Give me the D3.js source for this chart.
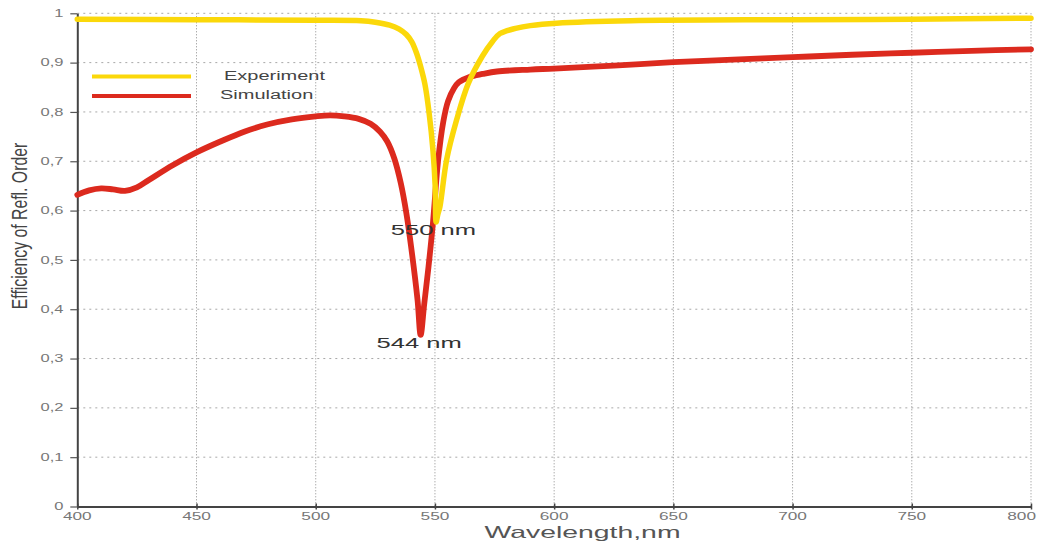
<!DOCTYPE html>
<html>
<head>
<meta charset="utf-8">
<script src="https://cdn.jsdelivr.net/npm/d3@7/dist/d3.min.js"></script>
<style>
  html, body { margin: 0; padding: 0; background: #fff; }
  svg { display: block; font-family: "Liberation Sans", Arial, Helvetica, sans-serif; }
</style>
</head>
<body>
<svg id="chart" width="1039" height="544"></svg>
<script>
// Reflection-order efficiency versus wavelength

const xTicks = [400, 450, 500, 550, 600, 650, 700, 750, 800];
const xTickLabels = ["400", "450", "500", "550", "600", "650", "700", "750", "800"];
const yTicks = [0, 0.1, 0.2, 0.3, 0.4, 0.5, 0.6, 0.7, 0.8, 0.9, 1];
const yTickLabels = ["0", "0,1", "0,2", "0,3", "0,4", "0,5", "0,6", "0,7", "0,8", "0,9", "1"];

// Measured spectrum
const expWavelength = [400, 450, 500, 519, 525, 531, 535, 538, 540.3, 542.3, 544, 545.8, 547.5, 549.2, 550.1, 550.5,
  551.2, 552.1, 554.9, 559.1, 564, 570, 574, 577.3, 584.3, 590, 601, 632, 700, 750, 800];
const expEfficiency = [0.988, 0.987, 0.986, 0.985, 0.982, 0.976, 0.968, 0.957, 0.942, 0.919, 0.892, 0.856, 0.80, 0.72, 0.65, 0.577,
  0.592, 0.608, 0.703, 0.784, 0.858, 0.914, 0.942, 0.959, 0.970, 0.975, 0.980, 0.985, 0.987, 0.988, 0.990];

// Simulated spectrum
const simWavelength = [400, 405, 410, 415, 420, 425, 430, 440, 450, 460, 470, 480, 490, 500, 506, 512, 518,
  523, 527, 530, 533, 535.7, 538, 540, 542.7, 544, 545.5, 547.3, 549.2, 551.3, 553.5, 555.5, 558, 560, 564.5, 570, 576,
  590, 600, 625, 650, 675, 700, 725, 750, 775, 800];
const simEfficiency = [0.632, 0.641, 0.645, 0.643, 0.640, 0.647, 0.662, 0.692, 0.718, 0.740, 0.760, 0.775, 0.785, 0.791, 0.793, 0.791, 0.786,
  0.776, 0.760, 0.740, 0.705, 0.655, 0.595, 0.527, 0.419, 0.348, 0.41, 0.486, 0.577, 0.70, 0.78, 0.822, 0.848, 0.860, 0.871, 0.877, 0.882,
  0.886, 0.888, 0.894, 0.901, 0.906, 0.911, 0.916, 0.920, 0.924, 0.927];

const seriesNames = ["Experiment", "Simulation"];
const seriesColors = ["#fbd80a", "#dc2a1e"];
const dipLabels = ["550 nm", "544 nm"];
const dipWavelengths = [550, 544];
const dipValues = [0.577, 0.348];

const svg = d3.select("#chart");
const x = d3.scaleLinear().domain([400, 800]).range([77.3, 1031]);
const y = d3.scaleLinear().domain([0, 1]).range([506.5, 13.3]);

// horizontally widened text
function wideText(parent, px, py, str, opt) {
  return parent.append("text")
    .attr("transform", `translate(${px},${py}) scale(${opt.sx || 1},1)`)
    .attr("text-anchor", opt.anchor || "start")
    .attr("font-size", opt.size)
    .attr("fill", opt.fill || "#555")
    .text(str);
}

// grid
const grid = svg.append("g");
grid.selectAll("line.h").data(yTicks.slice(1)).join("line")
  .attr("class", "h")
  .attr("x1", x(400)).attr("x2", x(800))
  .attr("y1", d => y(d)).attr("y2", d => y(d))
  .attr("stroke", "#a8a8a8").attr("stroke-width", 1)
  .attr("stroke-dasharray", "2,4");
grid.selectAll("line.v").data(xTicks.slice(1)).join("line")
  .attr("class", "v")
  .attr("x1", d => x(d)).attr("x2", d => x(d))
  .attr("y1", y(1)).attr("y2", y(0))
  .attr("stroke", "#8a8a8a").attr("stroke-width", 1)
  .attr("stroke-dasharray", "1,2");

// axes
const xAxis = svg.append("g")
  .attr("transform", `translate(0,${y(0)})`)
  .call(d3.axisBottom(x).tickValues(xTicks).tickFormat("").tickSize(3).tickSizeOuter(0));
xAxis.selectAll(".tick line").attr("y1", -3).attr("stroke", "#444").attr("stroke-width", 1.5);
xAxis.select(".domain").attr("stroke", "#444").attr("stroke-width", 2);

const yAxis = svg.append("g")
  .attr("transform", `translate(${x(400)},0)`)
  .call(d3.axisLeft(y).tickValues(yTicks).tickFormat("").tickSize(7).tickSizeOuter(0));
yAxis.selectAll(".tick line").attr("stroke", "#555").attr("stroke-width", 1.2);
yAxis.select(".domain").attr("stroke", "#444").attr("stroke-width", 2);

// tick labels (the last one is pulled inside the frame)
xTicks.forEach((t, i) => {
  const last = i === xTicks.length - 1;
  wideText(svg, last ? 1036 : x(t), 519.5, xTickLabels[i],
    { sx: 1.5, size: 11.5, anchor: last ? "end" : "middle", fill: "#777" });
});
yTicks.forEach((t, i) => wideText(svg, 63.5, y(t) + 3.6, yTickLabels[i], { sx: 1.65, size: 10, anchor: "end", fill: "#777" }));

// axis titles
wideText(svg, 582.5, 538, "Wavelength,nm", { sx: 1.72, size: 16.5, anchor: "middle", fill: "#555" });
svg.append("text")
  .attr("transform", `translate(26.5,226) rotate(-90) scale(1,1.38)`)
  .attr("text-anchor", "middle")
  .attr("font-size", 15.8)
  .attr("fill", "#444")
  .text("Efficiency of Refl. Order");

// curves
const line = d3.line().x(d => x(d[0])).y(d => y(d[1])).curve(d3.curveCatmullRom.alpha(0.5));
const simData = simWavelength.map((w, i) => [w, simEfficiency[i]]);
const expData = expWavelength.map((w, i) => [w, expEfficiency[i]]);

svg.append("path").datum(simData)
  .attr("d", line).attr("fill", "none")
  .attr("stroke", seriesColors[1]).attr("stroke-width", 5.8)
  .attr("stroke-linejoin", "round").attr("stroke-linecap", "round");
svg.append("path").datum(expData)
  .attr("d", line).attr("fill", "none")
  .attr("stroke", seriesColors[0]).attr("stroke-width", 5.5)
  .attr("stroke-linejoin", "round").attr("stroke-linecap", "round");

// legend
const legendY = [76.5, 96];
const legendTextX = [224, 220];
seriesNames.forEach((name, i) => {
  svg.append("line")
    .attr("x1", 92).attr("x2", 191)
    .attr("y1", legendY[i]).attr("y2", legendY[i])
    .attr("stroke", seriesColors[i]).attr("stroke-width", 4);
  wideText(svg, legendTextX[i], legendY[i] + 3, name, { sx: 1.6, size: 12.5, anchor: "start", fill: "#444" });
});

// dip annotations
dipLabels.forEach((lab, i) => {
  wideText(svg, x(dipWavelengths[i]) - 1.5, y(dipValues[i]) + 13.5, lab,
    { sx: 1.66, size: 15.4, anchor: "middle", fill: "#333" });
});
</script>
</body>
</html>
